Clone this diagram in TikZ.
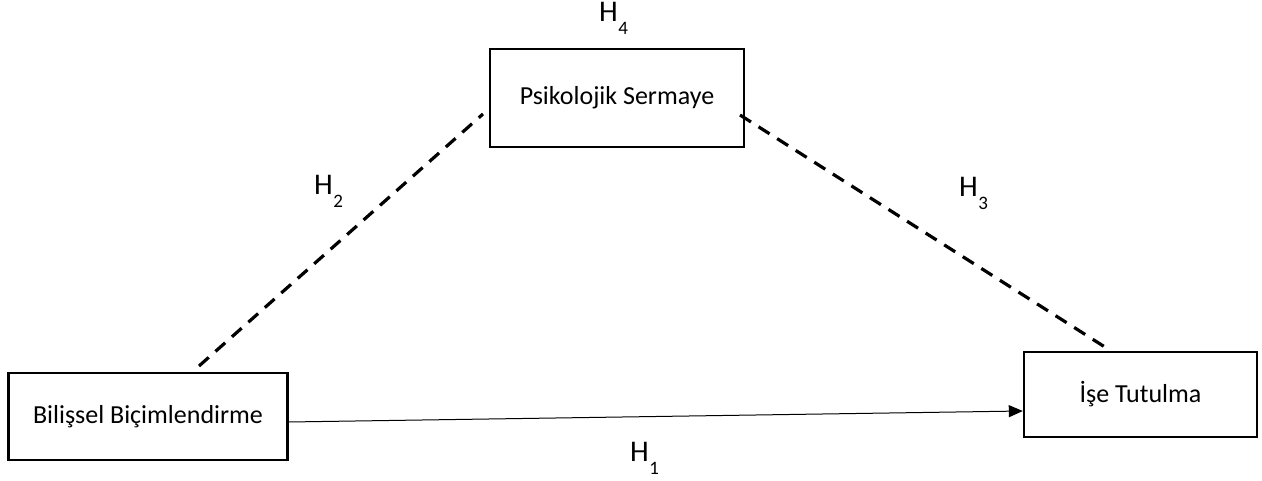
\documentclass[tikz,border=0pt]{standalone}
\usepackage{fontspec}
\setmainfont{Carlito}
\usetikzlibrary{arrows.meta}
\newcommand{\hyp}[1]{H\kern0.5pt\raisebox{-13pt}{\fontsize{19}{19}\selectfont #1}}
\begin{document}
\begin{tikzpicture}[x=1pt,y=-1pt,
  box/.style={draw,line width=2.4pt,minimum width=#1,inner sep=0pt,font=\fontsize{26}{30}\selectfont},
  link/.style={line width=3.2pt,dash pattern=on 13pt off 9pt},
  hlabel/.style={font=\fontsize{30}{32}\selectfont,inner sep=0pt}]
  \useasboundingbox (0,0) rectangle (1262,481);
  % variables
  \node[box=254pt,minimum height=98pt] (psy) at (617,98) {Psikolojik Sermaye};
  \node[box=279pt,minimum height=87pt] (cog) at (148,416.5) {Bilişsel Biçimlendirme};
  \node[box=233pt,minimum height=85pt] (job) at (1140.5,394.5) {İşe Tutulma};
  % endpoints of the dashed paths
  \coordinate (a1) at (199,366);
  \coordinate (a2) at (483,114);
  \coordinate (b1) at (740,115);
  \coordinate (b2) at (1108,349);
  \coordinate (s) at (cog.east |- 0,422);
  \coordinate (e) at (job.west |- 0,411);
  % paths
  \draw[link] (a1) -- (a2);
  \draw[link] (b1) -- (b2);
  \draw[line width=1pt,-{Triangle[length=14pt,width=12pt]}] (s) -- (e);
  % hypothesis labels
  \node[hlabel,anchor=base west] (h4) at (599,22) {\hyp{4}};
  \node[hlabel,anchor=base west] (h2) at (314,195) {\hyp{2}};
  \node[hlabel,anchor=base west] (h3) at (959,197) {\hyp{3}};
  \node[hlabel,anchor=base west] (h1) at (630,461) {\hyp{1}};
\end{tikzpicture}
\end{document}
